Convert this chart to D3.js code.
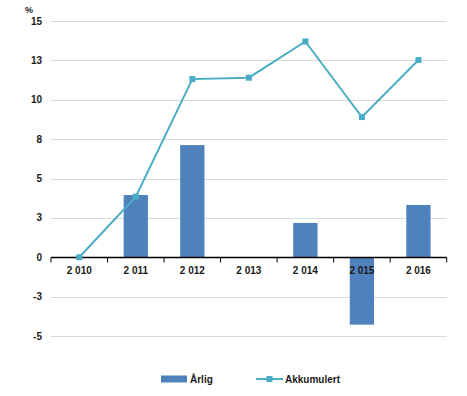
<!DOCTYPE html>
<html><head><meta charset="utf-8">
<script src="https://cdn.jsdelivr.net/npm/d3@7"></script>
<style>body{margin:0;background:#fff}svg{display:block}text{font-family:"Liberation Sans",Arial,sans-serif}</style>
</head><body><svg id="c" width="467" height="396"></svg>
<script>
const categories = ["2 010","2 011","2 012","2 013","2 014","2 015","2 016"];
const arlig = [0, 3.95, 7.12, 0, 2.18, -4.28, 3.32];
const akkumulert = [0, 3.85, 11.31, 11.4, 13.7, 8.9, 12.52];
const yTicks = [-5, -2.5, 0, 2.5, 5, 7.5, 10, 12.5, 15];
const yTickLabels = ["-5","-3","0","3","5","8","10","13","15"];
const seriesNames = ["Årlig","Akkumulert"];

const svg = d3.select("#c");
const x = d3.scaleBand().domain(categories).range([51, 446.7]).paddingInner(0).paddingOuter(0);
const y = d3.scaleLinear().domain([-5, 15]).range([336, 21]);
const barW = x.bandwidth() / 2.33;

// gridlines
svg.append("g").selectAll("line").data(yTicks.filter(d => d !== 0)).join("line")
  .attr("x1", 51).attr("x2", 446.7)
  .attr("y1", d => Math.round(y(d)) + 0.5).attr("y2", d => Math.round(y(d)) + 0.5)
  .attr("stroke", "#d9d9d9").attr("stroke-width", 1);

// y labels
svg.append("g").selectAll("text").data(yTicks).join("text")
  .attr("x", 42).attr("y", d => y(d) + 3.5).attr("text-anchor", "end")
  .attr("font-size", 10).attr("font-weight", "bold").attr("fill", "#1a1a1a")
  .text((d, i) => yTickLabels[i]);
svg.append("text").attr("x", 25).attr("y", 13).attr("font-size", 9).attr("font-weight", "bold").attr("fill", "#1a1a1a").text("%");

// bars
const barData = arlig.map((v, i) => ({c: categories[i], v})).filter(d => d.v !== 0);
svg.append("g").selectAll("rect").data(barData).join("rect")
  .attr("x", d => x(d.c) + (x.bandwidth() - barW) / 2).attr("width", barW)
  .attr("y", d => y(Math.max(0, d.v))).attr("height", d => Math.abs(y(d.v) - y(0)))
  .attr("fill", "#4f81bd");

// x axis
const zeroY = Math.round(y(0)) + 0.5;
const axis = svg.append("g");
axis.append("line").attr("x1", 51).attr("x2", 446.7).attr("y1", zeroY).attr("y2", zeroY).attr("stroke", "#000").attr("stroke-width", 1.3);
const boundaries = categories.map(c => x(c)).concat([x.range()[1]]);
axis.selectAll("line.t").data(boundaries).join("line").attr("class", "t")
  .attr("x1", d => d).attr("x2", d => d).attr("y1", zeroY).attr("y2", zeroY + 5).attr("stroke", "#000").attr("stroke-width", 1);
axis.selectAll("text").data(categories).join("text")
  .attr("x", d => x(d) + x.bandwidth() / 2).attr("y", zeroY + 16).attr("text-anchor", "middle")
  .attr("font-size", 10).attr("font-weight", "bold").attr("fill", "#1a1a1a").text(d => d);

// line
const pts = akkumulert.map((v, i) => ({c: categories[i], v}));
const line = d3.line().x(d => x(d.c) + x.bandwidth() / 2).y(d => y(d.v));
svg.append("path").datum(pts).attr("d", line).attr("fill", "none").attr("stroke", "#4bacc6").attr("stroke-width", 2);
svg.append("g").selectAll("rect").data(pts).join("rect")
  .attr("x", d => x(d.c) + x.bandwidth() / 2 - 3).attr("y", d => y(d.v) - 3)
  .attr("width", 6).attr("height", 6).attr("fill", "#4bacc6");

// legend
const lg = svg.append("g");
lg.append("rect").attr("x", 161).attr("y", 375.5).attr("width", 26).attr("height", 7).attr("fill", "#4f81bd");
lg.append("text").attr("x", 190).attr("y", 383).attr("font-size", 10).attr("font-weight", "bold").attr("fill", "#1a1a1a").text(seriesNames[0]);
lg.append("line").attr("x1", 256).attr("x2", 283).attr("y1", 379).attr("y2", 379).attr("stroke", "#4bacc6").attr("stroke-width", 2);
lg.append("rect").attr("x", 266.5).attr("y", 376).attr("width", 6).attr("height", 6).attr("fill", "#4bacc6");
lg.append("text").attr("x", 285).attr("y", 383).attr("font-size", 10).attr("font-weight", "bold").attr("fill", "#1a1a1a").text(seriesNames[1]);
</script></body></html>
